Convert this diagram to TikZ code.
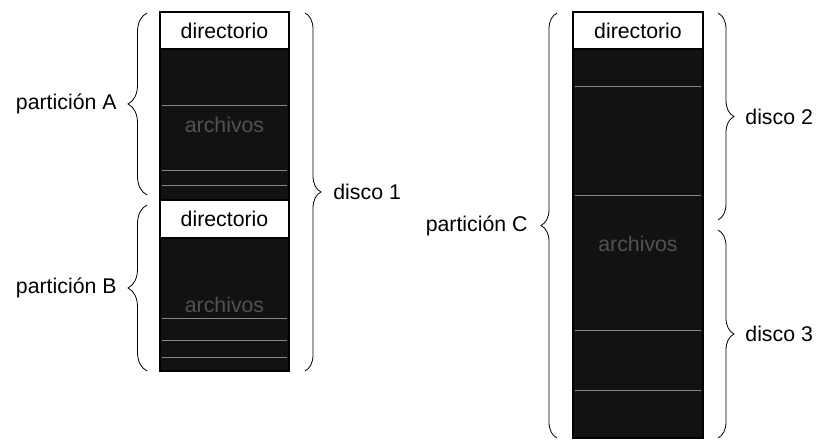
\documentclass[tikz,border=0pt]{standalone}
\usepackage{fontspec}
\setmainfont{Liberation Sans}
\usetikzlibrary{decorations.pathreplacing}
\begin{document}
\begin{tikzpicture}[x=1pt,y=1pt,
  every node/.style={font=\fontsize{21.3}{25}\selectfont},
  dirbox/.style={draw=black,line width=1.3pt,fill=white,inner sep=0pt,anchor=center},
  filebox/.style={draw=black,line width=1.3pt,fill=black!93,text=black!68,inner sep=0pt,anchor=center},
  streak/.style={draw=gray!55,line width=0.7pt,opacity=0.7},
  bracel/.style={draw=black,line width=0.8pt,decorate,decoration={brace,amplitude=#1}},
  lbl/.style={inner sep=0pt}
]
\useasboundingbox (0,0) rectangle (817,441);
% left column
\node[filebox,minimum width=129pt,minimum height=151pt] (fA) at (224.5,316.5) {archivos};
\node[dirbox,minimum width=129pt,minimum height=37pt] (dA) at (224.5,410.5) {directorio};
\node[filebox,minimum width=129pt,minimum height=133pt] (fB) at (224.5,136.5) {archivos};
\node[dirbox,minimum width=129pt,minimum height=38pt] (dB) at (224.5,222) {directorio};
% right column
\node[filebox,minimum width=130pt,minimum height=389pt] (fC) at (638,197.5) {archivos};
\node[dirbox,minimum width=130pt,minimum height=37pt] (dC) at (638,410.5) {directorio};
% streaks
\foreach \yy in {336,271,256} \draw[streak] (162,\yy) -- (287,\yy);
\foreach \yy in {123,101,84} \draw[streak] (162,\yy) -- (287,\yy);
\foreach \yy in {246,111,51,355} \draw[streak] (575,\yy) -- (701,\yy);
% braces
\draw[bracel=19pt] (147,246) -- (147,428) node[lbl,midway,anchor=east,xshift=-30pt] (pA) {partición A};
\draw[bracel=19pt] (147,70) -- (147,236) node[lbl,midway,anchor=east,xshift=-30pt] (pB) {partición B};
\draw[bracel=16pt] (305,428) -- (305,70) node[lbl,midway,anchor=west,xshift=28pt] (d1) {disco 1};
\draw[bracel=16pt] (557,3) -- (557,428) node[lbl,midway,anchor=east,xshift=-29pt] (pC) {partición C};
\draw[bracel=16pt] (718,428) -- (718,221) node[lbl,midway,anchor=west,xshift=27pt] (d2) {disco 2};
\draw[bracel=16pt] (718,211) -- (718,3) node[lbl,midway,anchor=west,xshift=27pt] (d3) {disco 3};
\end{tikzpicture}
\end{document}
